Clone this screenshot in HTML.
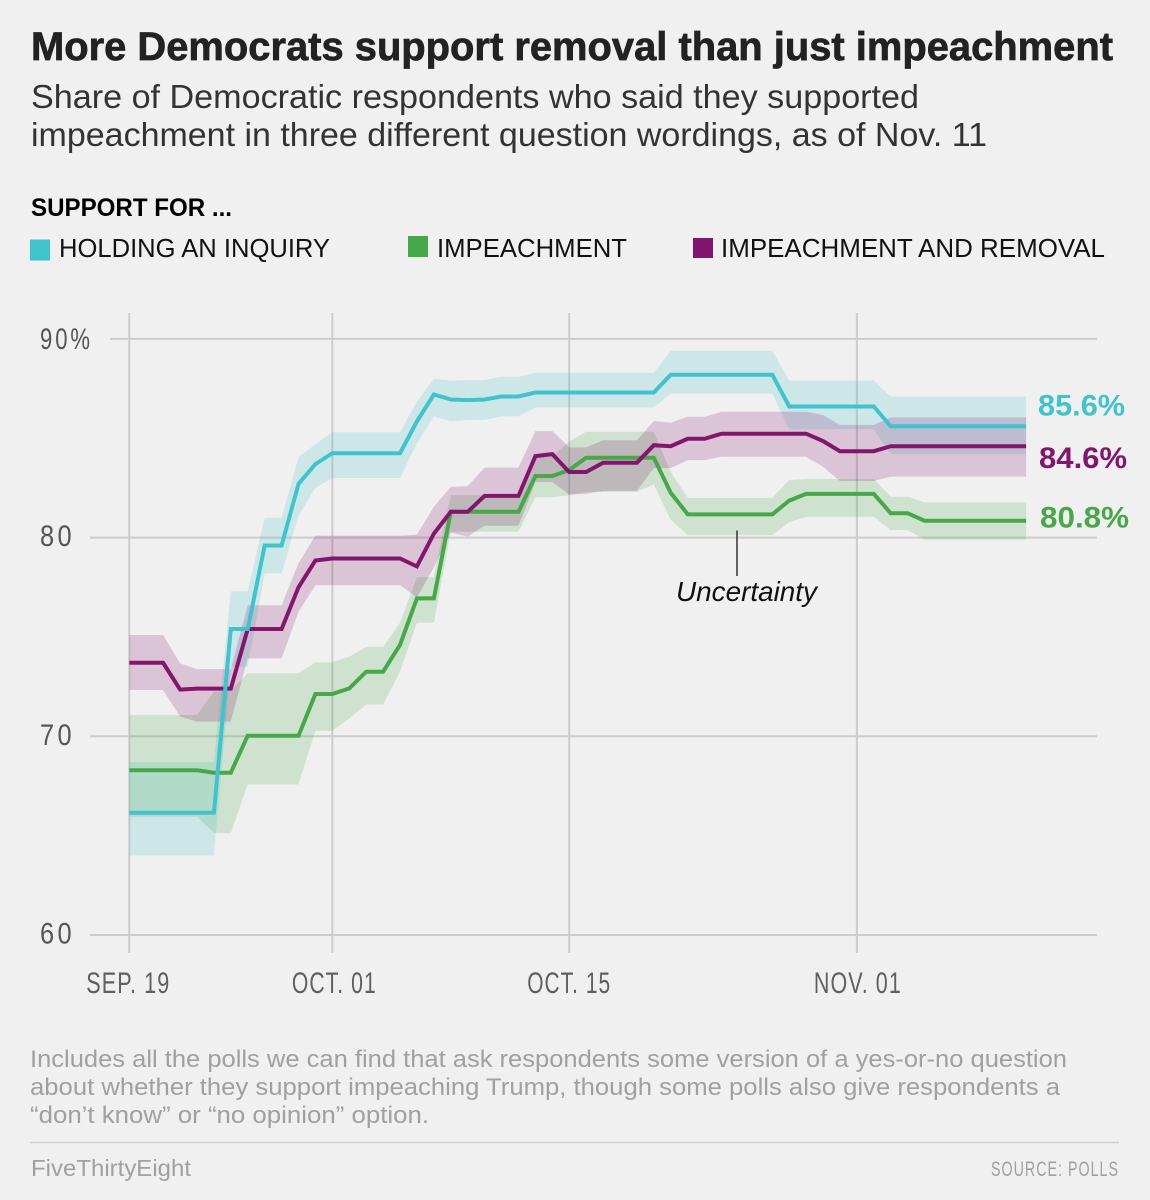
<!DOCTYPE html>
<html lang="en">
<head>
<meta charset="utf-8">
<title>More Democrats support removal than just impeachment</title>
<style>
html,body{margin:0;padding:0;background:#f0f0f0;}
svg{display:block;font-family:"Liberation Sans",sans-serif;}
</style>
</head>
<body>
<svg id="chart" xmlns="http://www.w3.org/2000/svg" width="1150" height="1200" viewBox="0 0 1150 1200">
  <rect x="0" y="0" width="1150" height="1200" fill="#f0f0f0"/>
  <text x="31" y="60" font-size="40" font-weight="700" fill="#222" stroke="#222" stroke-width="0.7" textLength="1082" lengthAdjust="spacingAndGlyphs">More Democrats support removal than just impeachment</text>
  <text x="31" y="108" font-size="33" fill="#333" textLength="888" lengthAdjust="spacingAndGlyphs">Share of Democratic respondents who said they supported</text>
  <text x="31" y="146" font-size="33" fill="#333" textLength="956" lengthAdjust="spacingAndGlyphs">impeachment in three different question wordings, as of Nov. 11</text>
  <text x="31" y="216" font-size="25" font-weight="700" fill="#000" textLength="201" lengthAdjust="spacingAndGlyphs">SUPPORT FOR ...</text>
  <rect x="30" y="239.5" width="20" height="21" fill="#40c3cc"/>
  <text x="59" y="257" font-size="26" fill="#111" textLength="271" lengthAdjust="spacingAndGlyphs">HOLDING AN INQUIRY</text>
  <rect x="408" y="236" width="20" height="21" fill="#47a84a"/>
  <text x="437" y="257" font-size="26" fill="#111" textLength="190" lengthAdjust="spacingAndGlyphs">IMPEACHMENT</text>
  <rect x="693" y="238" width="20" height="20" fill="#82166f"/>
  <text x="721" y="257" font-size="26" fill="#111" textLength="384" lengthAdjust="spacingAndGlyphs">IMPEACHMENT AND REMOVAL</text>

  <g id="grid"></g>
  <g id="bands"></g>
  <g id="lines"></g>
  <g id="labels"></g>

  <line x1="737" y1="530.5" x2="737" y2="576" stroke="#333" stroke-width="1.5"/>
  <text x="676" y="601" font-size="28" font-style="italic" fill="#111" textLength="141" lengthAdjust="spacingAndGlyphs">Uncertainty</text>

  <text x="30" y="1067" font-size="24" fill="#a0a0a0" textLength="1037" lengthAdjust="spacingAndGlyphs">Includes all the polls we can find that ask respondents some version of a yes-or-no question</text>
  <text x="30" y="1095" font-size="24" fill="#a0a0a0" textLength="1030" lengthAdjust="spacingAndGlyphs">about whether they support impeaching Trump, though some polls also give respondents a</text>
  <text x="30" y="1123" font-size="24" fill="#a0a0a0" textLength="399" lengthAdjust="spacingAndGlyphs">“don’t know” or “no opinion” option.</text>
  <line x1="30" y1="1142.5" x2="1119" y2="1142.5" stroke="#cfcfcf" stroke-width="1.5"/>
  <text x="31" y="1176" font-size="23" fill="#a0a0a0" textLength="160" lengthAdjust="spacingAndGlyphs">FiveThirtyEight</text>
  <text x="991" y="1176" font-size="21" letter-spacing="1.5" fill="#a0a0a0" textLength="128" lengthAdjust="spacingAndGlyphs">SOURCE: POLLS</text>
</svg>

<script>
// Day offsets from Sep. 19 for the x ticks
var xTickDays = [0, 12, 26, 43];
var xTickLabels = ['SEP. 19', 'OCT. 01', 'OCT. 15', 'NOV. 01'];
var yTickValues = [90, 80, 70, 60];
var yTickLabels = ['90%', '80', '70', '60'];

// Share of Democrats, one value per day from Sep. 19 (day 0) to Nov. 11 (day 53)
var inquiryValues = [66.15,66.15,66.15,66.15,66.15,66.15,75.4,75.4,79.6,79.6,82.7,83.7,84.25,84.25,84.25,84.25,84.25,85.85,87.2,86.95,86.92,86.95,87.1,87.1,87.3,87.3,87.3,87.3,87.3,87.3,87.3,87.3,88.2,88.2,88.2,88.2,88.2,88.2,88.2,86.6,86.6,86.6,86.6,86.6,86.6,85.6,85.6,85.6,85.6,85.6,85.6,85.6,85.6,85.6];
var inquiryUpper = [68.7,68.7,68.7,68.7,68.7,68.7,77.3,77.3,81,81,84.05,84.7,85.3,85.3,85.3,85.3,85.3,86.85,88,87.9,87.93,87.93,88.1,88.1,88.3,88.3,88.3,88.3,88.3,88.3,88.3,88.3,89.4,89.4,89.4,89.4,89.4,89.4,89.4,87.9,87.9,87.9,87.9,87.9,87.9,87.1,87.1,87.1,87.1,87.1,87.1,87.1,87.1,87.1];
var inquiryLower = [64,64,64,64,64,64,73.5,73.5,78.2,78.2,81.1,82.5,83,83,83,83,83,84.75,86.1,85.85,85.92,85.92,86.1,86.1,86.55,86.55,86.55,86.55,86.55,86.55,86.55,86.55,87.25,87.25,87.25,87.25,87.25,87.25,87.25,85.45,85.45,85.45,85.45,85.45,85.45,84.2,84.2,84.2,84.2,84.2,84.2,84.2,84.2,84.2];

var impeachValues = [68.29,68.29,68.29,68.29,68.29,68.17,68.17,70.03,70.03,70.03,70.03,72.13,72.13,72.41,73.25,73.25,74.6,76.94,76.94,81.3,81.3,81.3,81.3,81.3,83.1,83.1,83.4,84.02,84.02,84.02,84.02,84.02,82.26,81.17,81.17,81.17,81.17,81.17,81.17,81.86,82.2,82.2,82.2,82.2,82.2,81.23,81.23,80.85,80.85,80.85,80.85,80.85,80.85,80.85];
var impeachUpper = [71.07,71.07,71.07,71.07,71.07,72.25,72.3,73.17,73.17,73.17,73.17,73.72,73.72,74,74.5,74.5,75.72,78,78,82.14,82.14,82.14,82.14,82.14,84.1,84.1,84.83,85.33,85.33,85.33,85.33,85.33,83.3,82,82,82,82,82,82,82.9,82.95,82.95,82.95,82.95,82.95,82.06,82.06,81.77,81.77,81.77,81.77,81.77,81.77,81.77];
var impeachLower = [65.95,65.95,65.95,65.95,65.95,65.15,65.12,67.58,67.58,67.58,67.58,70.28,70.28,70.9,71.6,71.6,73.25,75.72,75.72,80.3,80.3,80.3,80.3,80.3,82.03,82.03,82.14,82.3,82.3,82.3,82.3,82.67,80.9,80.13,80.13,80.13,80.13,80.13,80.13,80.77,81.04,81.04,81.04,81.04,81.04,80.38,80.38,79.9,79.9,79.9,79.9,79.9,79.9,79.9];

var removalValues = [73.7,73.7,73.7,72.35,72.4,72.4,72.4,75.4,75.4,75.4,77.5,78.85,78.95,78.95,78.95,78.95,78.95,78.55,80.2,81.3,81.3,82.1,82.1,82.1,84.1,84.2,83.3,83.3,83.77,83.77,83.77,84.65,84.6,84.97,84.97,85.23,85.23,85.23,85.23,85.23,85.23,84.86,84.35,84.35,84.35,84.6,84.6,84.6,84.6,84.6,84.6,84.6,84.6,84.6];
var removalUpper = [75.1,75.1,75.1,73.67,73.38,73.38,73.38,76.6,76.6,76.6,78.7,80.1,80.1,80.1,80.1,80.1,80.1,80.15,81.55,82.55,82.58,83.53,83.53,83.53,85.36,85.36,84.54,84.54,84.9,84.9,84.9,85.87,85.78,86.08,86.08,86.33,86.33,86.33,86.33,86.33,86.33,86.17,85.67,85.67,85.67,86.05,86.05,86.05,86.05,86.05,86.05,86.05,86.05,86.05];
var removalLower = [72.33,72.33,72.33,70.99,70.74,70.74,70.74,73.92,73.92,73.92,76.27,77.6,77.6,77.6,77.6,77.6,77.6,77,78.5,80.25,80.05,80.6,80.6,80.6,82.8,82.8,82.17,82.2,82.35,82.35,82.35,83.5,83.5,83.9,83.9,84.07,84.07,84.07,84.07,84.07,84.07,83.57,82.85,82.85,82.85,83.07,83.07,83.07,83.07,83.07,83.07,83.07,83.07,83.07];

var inquiryLabel = '85.6%';
var impeachLabel = '80.8%';
var removalLabel = '84.6%';

var SVG_NS = 'http://www.w3.org/2000/svg';

function xScale(day) { return 129.3 + day * 16.92; }
function yScale(value) { return 935 - (value - 60) * 19.87; }

function make(tag, attrs, parent) {
  var el = document.createElementNS(SVG_NS, tag);
  for (var k in attrs) { el.setAttribute(k, attrs[k]); }
  parent.appendChild(el);
  return el;
}

function linePoints(values) {
  return values.map(function (v, i) {
    return xScale(i).toFixed(1) + ',' + yScale(v).toFixed(1);
  }).join(' ');
}

function bandPoints(upper, lower) {
  var top = upper.map(function (v, i) {
    return xScale(i).toFixed(1) + ',' + yScale(v).toFixed(1);
  });
  var bottom = lower.map(function (v, i) {
    return xScale(i).toFixed(1) + ',' + yScale(v).toFixed(1);
  }).reverse();
  return top.concat(bottom).join(' ');
}

var grid = document.getElementById('grid');
var bands = document.getElementById('bands');
var lines = document.getElementById('lines');
var labels = document.getElementById('labels');

// Vertical gridlines and x tick labels
var xTickWidths = [84, 85, 84, 88];
xTickDays.forEach(function (day, i) {
  var gridX = make('line', { x1: xScale(day), x2: xScale(day), y1: 313, y2: 953, stroke: '#cccccc', 'stroke-width': 2 }, grid);
  
  
  var w = xTickWidths[i];
  var tick = make('text', { x: xScale(day) - w / 2 + [-1, 2, 0, 1][i], y: 993, 'font-size': 30, 'letter-spacing': 1.5, fill: '#5f5f5f', textLength: w, lengthAdjust: 'spacingAndGlyphs' }, grid);
  
  
  tick.textContent = xTickLabels[i];
});

// Horizontal gridlines and y tick labels
yTickValues.forEach(function (value, i) {
  var isTop = i === 0;
  var gridY = make('line', { x1: isTop ? 110 : 90, x2: 1097, y1: yScale(value), y2: yScale(value), stroke: '#cccccc', 'stroke-width': 2 }, grid);
  
  
  var tick = make('text', { x: 40, y: yScale(value) + (isTop ? 10 : 8.5), 'font-size': 30, fill: '#555555', 'letter-spacing': 4, textLength: isTop ? 53 : 35, lengthAdjust: 'spacingAndGlyphs' }, grid);
  
  
  tick.textContent = yTickLabels[i];
});

// Uncertainty bands
var inquiryBand = make('polygon', { points: bandPoints(inquiryUpper, inquiryLower), fill: '#40c3cc', 'fill-opacity': 0.2 }, bands);


var impeachBand = make('polygon', { points: bandPoints(impeachUpper, impeachLower), fill: '#47a84a', 'fill-opacity': 0.2 }, bands);


var removalBand = make('polygon', { points: bandPoints(removalUpper, removalLower), fill: '#82166f', 'fill-opacity': 0.2 }, bands);



// Series lines
var impeachLine = make('polyline', { points: linePoints(impeachValues), fill: 'none', stroke: '#47a84a', 'stroke-width': 4, 'stroke-linejoin': 'miter' }, lines);


var removalLine = make('polyline', { points: linePoints(removalValues), fill: 'none', stroke: '#82166f', 'stroke-width': 4, 'stroke-linejoin': 'miter' }, lines);


var inquiryLine = make('polyline', { points: linePoints(inquiryValues), fill: 'none', stroke: '#40c3cc', 'stroke-width': 4, 'stroke-linejoin': 'miter' }, lines);



// End-of-line labels
var lastDay = inquiryValues.length - 1;
var inquiryEnd = make('text', { x: xScale(lastDay) + 12, y: yScale(inquiryValues[lastDay]) - 11, 'font-size': 29.5, 'font-weight': 700, fill: '#40c3cc', textLength: 87, lengthAdjust: 'spacingAndGlyphs' }, labels);


inquiryEnd.textContent = inquiryLabel;
var removalEnd = make('text', { x: xScale(lastDay) + 13, y: yScale(removalValues[lastDay]) + 22, 'font-size': 29.5, 'font-weight': 700, fill: '#82166f', textLength: 88, lengthAdjust: 'spacingAndGlyphs' }, labels);


removalEnd.textContent = removalLabel;
var impeachEnd = make('text', { x: xScale(lastDay) + 14, y: yScale(impeachValues[lastDay]) + 7, 'font-size': 29.5, 'font-weight': 700, fill: '#47a84a', textLength: 89, lengthAdjust: 'spacingAndGlyphs' }, labels);


impeachEnd.textContent = impeachLabel;
</script>
</body>
</html>
